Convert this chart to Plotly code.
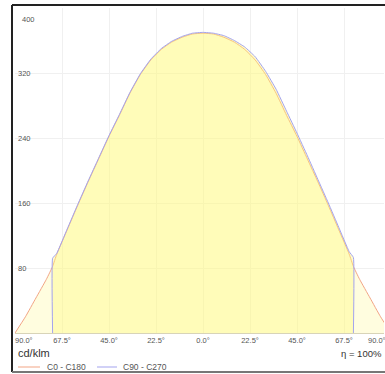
import plotly.graph_objects as go

# C0 - C180 plane (cd/klm), angle in degrees
c0_angles = [-90, -85, -80, -75, -72, -70, -65, -60, -55, -50, -45, -40, -35, -30, -25, -20, -15, -10, -5,
             0, 5, 10, 15, 20, 25, 30, 35, 40, 45, 50, 55, 60, 65, 70, 72, 75, 80, 85, 90]
c0_values = [0, 20, 43, 66, 82, 97, 127, 157, 186, 214, 242, 268, 295, 318, 336, 349, 358, 364, 368,
             369, 368, 364, 358, 349, 336, 318, 295, 268, 242, 214, 186, 157, 127, 97, 82, 66, 43, 20, 0]

# C90 - C270 plane, cut off sharply near 72 deg
c90_angles = [-72, -72, -70, -65, -60, -55, -50, -45, -40, -35, -30, -25, -20, -15, -10, -5,
              0, 5, 10, 15, 20, 25, 30, 35, 40, 45, 50, 55, 60, 65, 70, 72, 72]
c90_values = [0, 92, 98, 128, 158, 187, 215, 243, 269, 296, 319, 337, 350, 359, 365, 369,
              370, 369, 366, 360, 352, 340, 322, 300, 273, 246, 218, 189, 160, 130, 100, 93, 0]

x_ticks = [-67.5, -45, -22.5, 0, 22.5, 45, 67.5]
x_ticktext = ["67.5°", "45.0°", "22.5°", "0.0°", "22.5°", "45.0°", "67.5°"]
y_ticks = [80, 160, 240, 320]

W, H = 385, 374
ML, MR, MT, MB = 15, 1, 8, 41
pw, ph = W - ML - MR, H - MT - MB

def px(x):
    return (x - ML) / pw

def py(y):
    return (H - MB - y) / ph

fig = go.Figure()
fig.add_scatter(x=c0_angles, y=c0_values, mode='lines', name='C0 - C180', fill='tozeroy',
                fillcolor='rgba(255,250,150,0.30)', line=dict(color='#F2A585', width=1, shape='spline', smoothing=0.5))
fig.add_scatter(x=c90_angles, y=c90_values, mode='lines', name='C90 - C270', fill='tozeroy',
                fillcolor='rgba(255,250,120,0.37)', line=dict(color='#A3A3EE', width=1, shape='spline', smoothing=0.3))

tick_font = dict(family='Liberation Sans, Arial', size=7.5, color='#555')
fig.update_layout(
    width=W, height=H, margin=dict(l=ML, r=MR, t=MT, b=MB),
    paper_bgcolor='white', plot_bgcolor='white', showlegend=False,
    xaxis=dict(range=[-90, 86.65], tickvals=x_ticks, ticktext=x_ticktext, ticks='', tickfont=tick_font,
               showgrid=True, gridcolor='#F0F0F0', gridwidth=1, zeroline=False,
               showline=True, linecolor='#D8D4B8', linewidth=1, fixedrange=True),
    yaxis=dict(range=[0, 400], tickvals=y_ticks + [400], ticktext=[str(v) for v in y_ticks] + [''],
               ticks='', ticklabelposition='inside', tickfont=tick_font,
               showgrid=True, gridcolor='#F0F0F0', gridwidth=1, zeroline=False, fixedrange=True),
)

ann = []
ann.append(dict(text='400', x=px(20), y=py(19), xref='paper', yref='paper', xanchor='left', yanchor='middle',
                showarrow=False, font=tick_font))
ann.append(dict(text='90.0°', x=px(24), y=py(340), xref='paper', yref='paper', xanchor='center', yanchor='middle',
                showarrow=False, font=tick_font))
ann.append(dict(text='90.0°', x=px(366), y=py(340), xref='paper', yref='paper', xanchor='left', yanchor='middle',
                showarrow=False, font=tick_font))
ann.append(dict(text='cd/klm', x=px(16), y=py(353), xref='paper', yref='paper', xanchor='left', yanchor='middle',
                showarrow=False, font=dict(family='Liberation Sans, Arial', size=11, color='#333')))
ann.append(dict(text='η = 100%', x=px(384), y=py(354), xref='paper', yref='paper', xanchor='right', yanchor='middle',
                showarrow=False, font=dict(family='Liberation Sans, Arial', size=9.5, color='#333')))
ann.append(dict(text='C0 - C180', x=px(45), y=py(367), xref='paper', yref='paper', xanchor='left', yanchor='middle',
                showarrow=False, font=dict(family='Liberation Sans, Arial', size=8.5, color='#555')))
ann.append(dict(text='C90 - C270', x=px(121), y=py(367), xref='paper', yref='paper', xanchor='left', yanchor='middle',
                showarrow=False, font=dict(family='Liberation Sans, Arial', size=8.5, color='#555')))
fig.update_layout(annotations=ann)

shapes = [
    # legend swatches
    dict(type='line', xref='paper', yref='paper', x0=px(18), x1=px(40), y0=py(367), y1=py(367),
         line=dict(color='#F2A585', width=1)),
    dict(type='line', xref='paper', yref='paper', x0=px(97), x1=px(117), y0=py(367), y1=py(367),
         line=dict(color='#A3A3EE', width=1)),
    # frame
    dict(type='line', xref='paper', yref='paper', x0=px(12), x1=px(12), y0=py(5), y1=py(372),
         line=dict(color='#222', width=2)),
    dict(type='line', xref='paper', yref='paper', x0=px(12), x1=px(386), y0=py(5), y1=py(5),
         line=dict(color='#222', width=2)),
    dict(type='line', xref='paper', yref='paper', x0=px(12), x1=px(386), y0=py(372), y1=py(372),
         line=dict(color='#777', width=2)),
]
fig.update_layout(shapes=shapes)

fig.write_html("out.html", config={'displayModeBar': False},
               post_script="document.body.style.margin='0';")
